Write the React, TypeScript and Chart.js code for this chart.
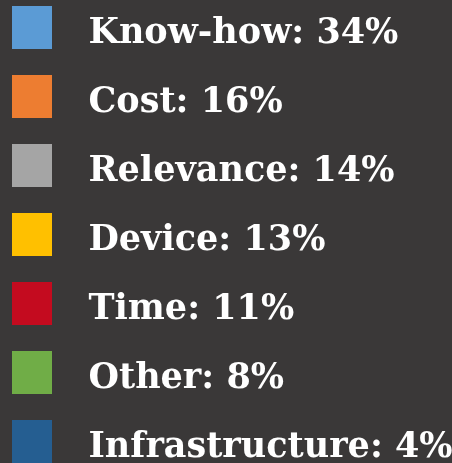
import React, { useEffect, useRef } from "react";
import { Chart, registerables } from "chart.js";

Chart.register(...registerables);

const categories = ["Know-how", "Cost", "Relevance", "Device", "Time", "Other", "Infrastructure"];
const shares = [34, 16, 14, 13, 11, 8, 4];
const colors = ["#5B9BD5", "#ED7D31", "#A5A5A5", "#FFC000", "#C40B1F", "#70AD47", "#255E91"];

function swatch(color: string): HTMLCanvasElement {
  const c = document.createElement("canvas");
  c.width = 59;
  c.height = 55;
  const g = c.getContext("2d")!;
  g.fillStyle = color;
  g.fillRect(0, 0, 40, 43);
  return c;
}

export default function App() {
  const ref = useRef<HTMLCanvasElement>(null);
  useEffect(() => {
    const swatches = colors.map(swatch);
    const chart = new Chart(ref.current!, {
      type: "pie",
      data: {
        labels: categories,
        datasets: [{ data: shares, backgroundColor: colors, borderWidth: 0 }],
      },
      options: {
        responsive: false,
        animation: false,
        devicePixelRatio: 1,
        layout: { padding: 0 },
        plugins: {
          tooltip: { enabled: false },
          legend: {
            position: "left",
            align: "start",
            labels: {
              usePointStyle: true,
              pointStyleWidth: 59,
              padding: 34,
              color: "#FFFFFF",
              font: { family: "'DejaVu Serif', serif", size: 35, weight: "bold" },
              generateLabels: (ch: any) => {
                const ds = ch.data.datasets[0];
                return ch.data.labels.map((l: string, i: number) => ({
                  text: `${l}: ${ds.data[i]}%`,
                  fillStyle: ds.backgroundColor[i],
                  strokeStyle: ds.backgroundColor[i],
                  lineWidth: 0,
                  pointStyle: swatches[i],
                  hidden: false,
                  index: i,
                  fontColor: "#FFFFFF",
                }));
              },
            },
          },
        },
      },
    } as any);
    return () => chart.destroy();
  }, []);

  return (
    <div
      style={{
        position: "fixed",
        left: 0,
        top: 0,
        width: 452,
        height: 463,
        overflow: "hidden",
        background: "#3A3838",
      }}
    >
      <canvas
        ref={ref}
        width={1100}
        height={600}
        style={{ position: "absolute", left: -22, top: -18 }}
      />
    </div>
  );
}
